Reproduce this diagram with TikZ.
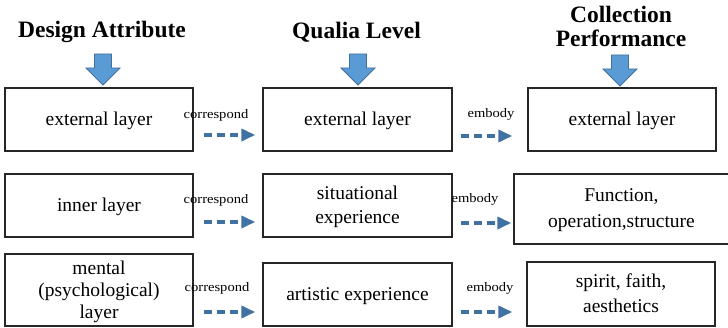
\documentclass[tikz,border=0pt]{standalone}
\usepackage{fontspec}
\setmainfont{Liberation Serif}
\usetikzlibrary{arrows.meta,calc}
\definecolor{arrowfill}{HTML}{5B9BD5}
\definecolor{arrowedge}{HTML}{41719C}
\definecolor{flowblue}{HTML}{3F72A3}
\newcommand\widelbl[1]{\scalebox{1.12}[1]{#1}}
\begin{document}
\begin{tikzpicture}[x=1pt,y=-1pt,
  box/.style={draw=black!85, line width=1.4pt, align=center, inner sep=0pt,
              font=\fontsize{19.5}{24}\selectfont, text depth=1pt},
  head/.style={font=\bfseries\fontsize{23.5}{27}\selectfont, anchor=base, inner sep=0pt},
  lbl/.style={font=\fontsize{13}{15}\selectfont, anchor=base, inner sep=0pt},
  flow/.style={draw=flowblue, line width=3.6pt, dash pattern=on 8pt off 5pt,
               -{Triangle[length=14pt,width=12pt]}},
  blockarrow/.style={fill=arrowfill, draw=arrowedge, line width=0.8pt, line join=miter},
  downarrow/.pic={\draw[blockarrow] (-8.5,0) -- (8.5,0) -- (8.5,14) -- (17,14)
                   -- (0,31) -- (-17,14) -- (-8.5,14) -- cycle;}]
\useasboundingbox (0,0) rectangle (728,328);

% column headings
\node[head] (h1)  at (102,38)   {Design Attribute};
\node[head] (h2)  at (356.5,39) {Qualia Level};
\node[head] (h3a) at (621,23)   {Collection};
\node[head] (h3b) at (621,47)   {Performance};

% block arrows under the headings
\pic at (103,54) {downarrow};
\pic at (358,54) {downarrow};
\pic at (620,55) {downarrow};

% design attribute column
\node[box, minimum width=188pt, minimum height=63pt] (a1) at (99,119.5) {external layer};
\node[box, minimum width=188pt, minimum height=63pt] (a2) at (99,205.5) {inner layer};
\node[box, minimum width=188pt, minimum height=72pt,
      font=\fontsize{19.5}{22}\selectfont] (a3) at (99,290) {mental\\(psychological)\\layer};

% qualia level column
\node[box, minimum width=189pt, minimum height=63pt] (b1) at (357.5,119.5) {external layer};
\node[box, minimum width=189pt, minimum height=63pt] (b2) at (357.5,205.5) {situational\\experience};
\node[box, minimum width=189pt, minimum height=63pt] (b3) at (357.5,294.5) {artistic experience};

% collection performance column
\node[box, minimum width=188pt, minimum height=63pt] (c1) at (622,119.5) {external layer};
\node[box, minimum width=215pt, minimum height=70pt,
      font=\fontsize{19.5}{26}\selectfont] (c2) at (621.5,209) {Function,\\operation,structure};
\node[box, minimum width=188pt, minimum height=64pt,
      font=\fontsize{19.5}{25}\selectfont] (c3) at (621,294) {spirit, faith,\\aesthetics};

% correspond arrows
\draw[flow] ($(a1.east)+(10,15.5)$) -- ($(b1.west)+(-7,15.5)$);
\draw[flow] ($(a2.east)+(10,16.5)$) -- ($(b2.west)+(-7,16.5)$);
\draw[flow] ($(a3.east)+(10,22)$)   -- ($(b3.west)+(-7,17.5)$);
\node[lbl] (l1) at (216,119) {\widelbl{correspond}};
\node[lbl] (l2) at (216,204) {\widelbl{correspond}};
\node[lbl] (l3) at (217,292) {\widelbl{correspond}};

% embody arrows
\draw[flow] ($(b1.east)+(8,16.5)$) -- ($(c1.west)+(-15,16.5)$);
\draw[flow] ($(b2.east)+(8,17.5)$) -- ($(c2.west)+(-2,14)$);
\draw[flow] ($(b3.east)+(8,17.5)$) -- ($(c3.west)+(-14,18)$);
\node[lbl] (m1) at (491,118) {\widelbl{embody}};
\node[lbl] (m2) at (475,203) {\widelbl{embody}};
\node[lbl] (m3) at (490,292) {\widelbl{embody}};
\end{tikzpicture}
\end{document}
